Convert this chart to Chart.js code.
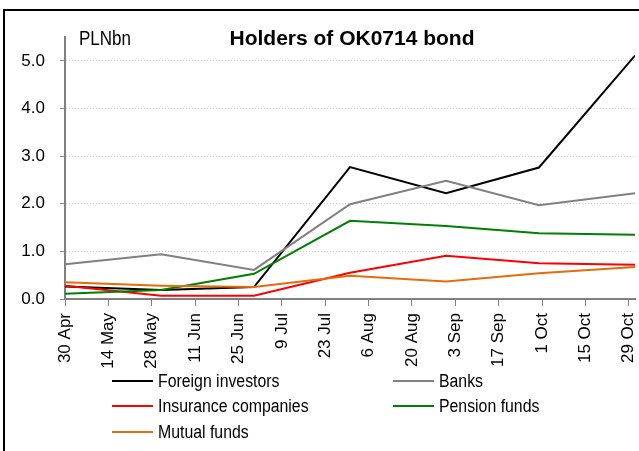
<!DOCTYPE html>
<html>
<head>
<meta charset="utf-8">
<script src="https://cdn.jsdelivr.net/npm/chart.js@4.4.1/dist/chart.umd.min.js"></script>
<style>
  html, body { margin: 0; padding: 0; background: #fff; overflow: hidden; }
  #wrap { position: relative; width: 639px; height: 451px; }
  #frame { position: absolute; left: 3px; top: 9px; width: 700px; height: 500px; border: 2px solid #000; box-sizing: border-box; }
  canvas { position: absolute; left: 0; top: 0; }
  .unit { position: absolute; left: 79px; top: 27px; font: 21px/21px "Liberation Sans", Arial, sans-serif; color: #000; transform: scaleX(0.81); transform-origin: left; }
  .title { position: absolute; left: 352px; top: 27px; transform: translateX(-50%); white-space: nowrap; font: bold 21px/21px "Liberation Sans", Arial, sans-serif; color: #000; }
  #legend { position: absolute; left: 112px; top: 368px; display: grid; grid-template-columns: 281px 200px; grid-auto-rows: 25.5px; }
  .item { display: flex; align-items: center; white-space: nowrap; font: 18px/18px "Liberation Sans", Arial, sans-serif; color: #000; }
  .item .swatch { width: 41px; height: 2px; margin-right: 5px; flex: none; }
  .item .txt { display: inline-block; transform: scaleX(0.88); transform-origin: left; }
</style>
</head>
<body>
<div id="wrap">
  <div id="frame"></div>
  <canvas id="myChart" width="639" height="451" style="width:639px;height:451px"></canvas>
  <div class="unit">PLNbn</div>
  <div class="title">Holders of OK0714 bond</div>
  <div id="legend"></div>
</div>
<script>
// month-end observation dates
const dates = ['2012-04-30', '2012-05-31', '2012-06-30', '2012-07-31', '2012-08-31', '2012-09-30', '2012-10-31'];

// PLN bn
const foreignInvestors = [0.26, 0.19, 0.25, 2.77, 2.22, 2.76, 5.11];
const banks = [0.73, 0.94, 0.61, 1.99, 2.48, 1.97, 2.22];
const insuranceCompanies = [0.28, 0.07, 0.07, 0.55, 0.91, 0.75, 0.72];
const pensionFunds = [0.11, 0.19, 0.53, 1.64, 1.53, 1.38, 1.35];
const mutualFunds = [0.35, 0.28, 0.25, 0.49, 0.37, 0.54, 0.67];

// x axis ticks every two weeks from 30 Apr
const tickLabels = ['30 Apr', '14 May', '28 May', '11 Jun', '25 Jun', '9 Jul', '23 Jul',
  '6 Aug', '20 Aug', '3 Sep', '17 Sep', '1 Oct', '15 Oct', '29 Oct'];
const yTicks = [0, 1, 2, 3, 4, 5];

const start = Date.UTC(2012, 3, 30);
const dayOf = (s) => Math.round((Date.parse(s) - start) / 86400000);
const days = dates.map(dayOf);
const tickDays = tickLabels.map((_, i) => i * 14);

const series = [
  { label: 'Foreign investors', data: foreignInvestors, color: '#000000' },
  { label: 'Banks', data: banks, color: '#808080' },
  { label: 'Insurance companies', data: insuranceCompanies, color: '#ff0000' },
  { label: 'Pension funds', data: pensionFunds, color: '#008000' },
  { label: 'Mutual funds', data: mutualFunds, color: '#e46c0a' }
];

const datasets = series.map((s, i) => ({
  label: s.label,
  data: s.data.map((v, j) => ({ x: days[j], y: v })),
  borderColor: s.color,
  backgroundColor: s.color,
  borderWidth: 2,
  pointRadius: 0,
  tension: 0,
  order: series.length - i
}));

const axisGrey = '#808080';

new Chart(document.getElementById('myChart'), {
  type: 'line',
  data: { datasets: datasets },
  options: {
    responsive: false,
    animation: false,
    layout: { padding: { top: 37, right: 4, bottom: 0, left: 0 } },
    plugins: { legend: { display: false }, tooltip: { enabled: false } },
    scales: {
      x: {
        type: 'linear',
        min: 0,
        max: 184,
        afterBuildTicks: (scale) => { scale.ticks = tickDays.map(v => ({ value: v })); },
        afterFit: (scale) => { scale.height = 152; scale.paddingLeft = 0; scale.paddingRight = 0; },
        ticks: {
          autoSkip: false,
          minRotation: 90,
          maxRotation: 90,
          padding: 7,
          color: '#000',
          font: { family: '"Liberation Sans", Arial, sans-serif', size: 17 },
          callback: (value, index) => tickLabels[index]
        },
        grid: { drawOnChartArea: false, color: axisGrey, tickColor: axisGrey, tickLength: 7, tickWidth: 1 },
        border: { color: axisGrey, width: 2 }
      },
      y: {
        min: 0,
        max: 5.5,
        afterBuildTicks: (scale) => { scale.ticks = yTicks.map(v => ({ value: v })); },
        afterFit: (scale) => { scale.width = 65; scale.paddingTop = 0; scale.paddingBottom = 0; },
        ticks: {
          padding: 15,
          color: '#000',
          font: { family: '"Liberation Sans", Arial, sans-serif', size: 17 },
          callback: (value) => value.toFixed(1)
        },
        grid: { color: '#d0d0d0', lineWidth: 1, tickColor: axisGrey, tickLength: 5, tickWidth: 1, tickBorderDash: [] },
        border: { color: axisGrey, width: 2, dash: [1, 2] }
      }
    }
  }
});

// legend in two columns like the original
const legend = document.getElementById('legend');
series.forEach(s => {
  const item = document.createElement('div');
  item.className = 'item';
  const sw = document.createElement('span');
  sw.className = 'swatch';
  sw.style.background = s.color;
  const txt = document.createElement('span');
  txt.className = 'txt';
  txt.textContent = s.label;
  item.appendChild(sw);
  item.appendChild(txt);
  legend.appendChild(item);
});
</script>
</body>
</html>
